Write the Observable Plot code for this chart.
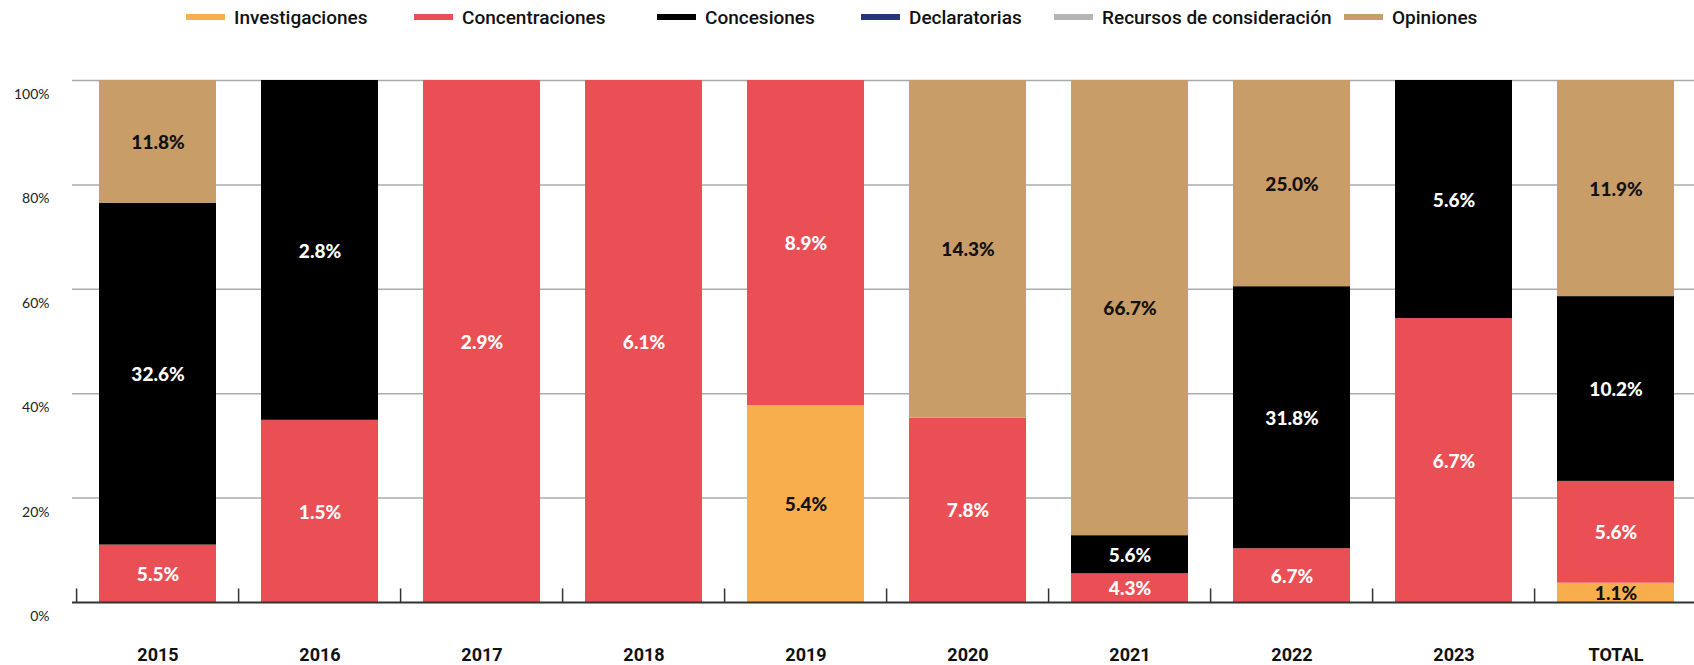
<!DOCTYPE html>
<html>
<head>
<meta charset="utf-8">
<script src="https://cdn.jsdelivr.net/npm/d3@7"></script>
<script src="https://cdn.jsdelivr.net/npm/@observablehq/plot@0.6"></script>
<style>
  html, body { margin: 0; padding: 0; background: #fff; overflow: hidden; }
  #legend { position: relative; width: 1694px; height: 40px; font-family: Roboto, "Liberation Sans", sans-serif; font-weight: 500; font-size: 19px; color: #111; }
  .item { position: absolute; top: 0; height: 34px; display: flex; align-items: center; white-space: nowrap; }
  .sw { width: 39px; height: 6px; margin-right: 9px; }
  #chart svg { display: block; }
</style>
</head>
<body>
<div id="legend"></div>
<div id="chart"></div>
<script>
// ---- data ----
const categories = ["2015", "2016", "2017", "2018", "2019", "2020", "2021", "2022", "2023", "TOTAL"];
const series = ["Investigaciones", "Concentraciones", "Concesiones", "Declaratorias", "Recursos de consideración", "Opiniones"];
const colors = ["#F8AE4C", "#EA4F55", "#000000", "#26347C", "#B5B5B5", "#C99D67"];

// segment heights (share of each bar, %)
const investigaciones = [0, 0, 0, 0, 37.7, 0, 0, 0, 0, 3.7];
const concentraciones = [11.0, 34.9, 100, 100, 62.3, 35.3, 5.5, 10.3, 54.4, 19.5];
const concesiones     = [65.5, 65.1, 0, 0, 0, 0, 7.3, 50.2, 45.6, 35.4];
const declaratorias   = [0, 0, 0, 0, 0, 0, 0, 0, 0, 0];
const recursos        = [0, 0, 0, 0, 0, 0, 0, 0, 0, 0];
const opiniones       = [23.5, 0, 0, 0, 0, 64.7, 87.2, 39.5, 0, 41.4];

// printed labels
const investigacionesLabels = [null, null, null, null, "5.4%", null, null, null, null, "1.1%"];
const concentracionesLabels = ["5.5%", "1.5%", "2.9%", "6.1%", "8.9%", "7.8%", "4.3%", "6.7%", "6.7%", "5.6%"];
const concesionesLabels     = ["32.6%", "2.8%", null, null, null, null, "5.6%", "31.8%", "5.6%", "10.2%"];
const declaratoriasLabels   = [null, null, null, null, null, null, null, null, null, null];
const recursosLabels        = [null, null, null, null, null, null, null, null, null, null];
const opinionesLabels       = ["11.8%", null, null, null, null, "14.3%", "66.7%", "25.0%", null, "11.9%"];

const yTicks = [0, 20, 40, 60, 80, 100];

// ---- build table ----
const valueArrays = [investigaciones, concentraciones, concesiones, declaratorias, recursos, opiniones];
const labelArrays = [investigacionesLabels, concentracionesLabels, concesionesLabels, declaratoriasLabels, recursosLabels, opinionesLabels];
const rows = [];
series.forEach((s, si) => {
  categories.forEach((c, ci) => {
    rows.push({cat: c, series: s, value: valueArrays[si][ci], label: labelArrays[si][ci]});
  });
});
const shown = rows.filter(d => d.value > 0);
const darkText = new Set(["Investigaciones", "Opiniones", "Recursos de consideración"]);

// ---- legend ----
const legendLefts = [186, 414, 657, 861, 1054, 1344];
const legend = document.getElementById("legend");
series.forEach((s, i) => {
  const item = document.createElement("div");
  item.className = "item";
  item.style.left = legendLefts[i] + "px";
  const sw = document.createElement("span");
  sw.className = "sw";
  sw.style.background = colors[i];
  const tx = document.createElement("span");
  tx.textContent = s;
  item.appendChild(sw);
  item.appendChild(tx);
  legend.appendChild(item);
});

// ---- chart ----
const W = 1694, H = 625, ML = 72, MR = -6;
const step = (W - ML - MR) / categories.length;
const labelFont = "Lato, 'Open Sans', sans-serif";
const axisFont = "Roboto, 'Liberation Sans', sans-serif";

const chart = Plot.plot({
  width: W,
  height: H,
  marginTop: 40,
  marginBottom: 63,
  marginLeft: ML,
  marginRight: MR,
  style: {background: "white", fontFamily: labelFont, overflow: "visible"},
  x: {domain: categories, paddingInner: 0.28, paddingOuter: 0.14, label: null},
  y: {domain: [0, 100], label: null},
  color: {domain: series, range: colors},
  marks: [
    Plot.ruleY(yTicks.filter(d => d > 0), {stroke: "#ababab", strokeWidth: 1.5}),
    Plot.barY(shown, {x: "cat", y: "value", fill: "series", order: series}),
    Plot.text(shown, Plot.stackY({
      x: "cat", y: "value", z: "series", order: series,
      text: d => darkText.has(d.series) ? null : d.label,
      fill: "white", fontSize: 19, fontWeight: 900, fontFamily: labelFont, dy: 1
    })),
    Plot.text(shown, Plot.stackY({
      x: "cat", y: "value", z: "series", order: series,
      text: d => darkText.has(d.series) ? d.label : null,
      fill: "#111", fontSize: 19, fontWeight: 900, fontFamily: labelFont, dy: 1
    })),
    Plot.ruleY([0], {stroke: "#333", strokeWidth: 2}),
    Plot.ruleX(categories, {x: d => d, y1: 0, y2: 2.6, dx: -step / 2, stroke: "#333", strokeWidth: 1.5}),
    Plot.axisY({ticks: yTicks, tickSize: 0, tickPadding: 23, dy: 14, tickFormat: d => d + "%", fontSize: 14, fill: "#222", fontFamily: labelFont, label: null}),
    Plot.axisX({tickSize: 0, tickPadding: 46, fontSize: 18, fontWeight: "bold", fill: "#111", fontFamily: axisFont, label: null})
  ]
});
document.getElementById("chart").appendChild(chart);
</script>
</body>
</html>
